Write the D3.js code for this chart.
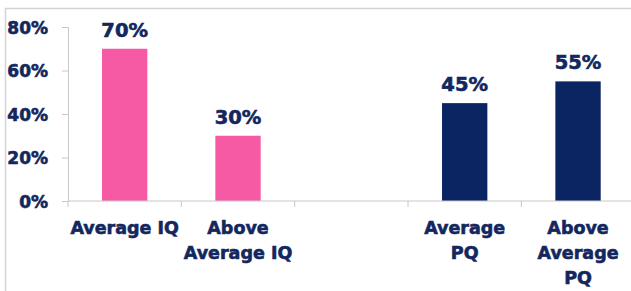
<!DOCTYPE html>
<html>
<head>
<meta charset="utf-8">
<script src="https://cdn.jsdelivr.net/npm/d3@7"></script>
<style>
  body { margin: 0; background: #fff; }
  svg text { font-family: "DejaVu Sans", sans-serif; font-weight: bold; fill: #13275e;
             stroke: #13275e; stroke-width: 0.6px; }
</style>
</head>
<body>
<svg id="chart" width="631" height="291"></svg>
<script>
// chart data
var categories = ["Average IQ", "Above Average IQ", "", "Average PQ", "Above Average PQ"];
var labelLines = [["Average IQ"], ["Above", "Average IQ"], [], ["Average", "PQ"], ["Above", "Average", "PQ"]];
var values = [70, 30, null, 45, 55];
var colors = ["#f75aa5", "#f75aa5", null, "#0b2462", "#0b2462"];
var yTicks = [0, 20, 40, 60, 80];

var data = categories.map(function(c, i) {
  return {i: i, name: c, value: values[i], color: colors[i]};
}).filter(function(d) { return d.value != null; });

var svg = d3.select("#chart");

// frame around plot
svg.append("path")
  .attr("d", "M5.5,291 V8.5 H631")
  .attr("fill", "none")
  .attr("stroke", "#d4d4d4")
  .attr("stroke-width", 1.5);

var x = d3.scaleBand()
  .domain(categories.map(function(d, i) { return i; }))
  .range([68, 634.7])
  .paddingInner(0.6)
  .paddingOuter(0.3);

var y = d3.scaleLinear()
  .domain([0, 80])
  .range([201, 27]);

var g = svg.append("g");

// bars
g.selectAll("rect")
  .data(data)
  .enter().append("rect")
  .attr("x", function(d) { return x(d.i); })
  .attr("y", function(d) { return y(d.value); })
  .attr("width", x.bandwidth())
  .attr("height", function(d) { return y(0) - y(d.value); })
  .attr("fill", function(d) { return d.color; });

// value labels
g.selectAll(".val")
  .data(data)
  .enter().append("text")
  .attr("class", "val")
  .attr("x", function(d) { return x(d.i) + x.bandwidth() / 2; })
  .attr("y", function(d) { return y(d.value) - 12; })
  .attr("text-anchor", "middle")
  .style("font-size", "19.5px")
  .text(function(d) { return d.value + "%"; });

// y axis
var yAxis = svg.append("g")
  .attr("transform", "translate(68,0)")
  .call(d3.axisLeft(y).tickValues(yTicks).tickSize(6).tickPadding(14)
    .tickFormat(function(d) { return d + "%"; }));
yAxis.select(".domain").attr("stroke", "#c8c8c8");
yAxis.selectAll(".tick line").attr("stroke", "#c8c8c8");
yAxis.selectAll(".tick text").style("font-size", "17px").attr("fill", "#13275e").attr("dy", "0.36em");

// x axis: ticks at band boundaries
var step = x.step();
var bounds = categories.map(function(d, i) { return 68 + i * step; });
var xAxis = svg.append("g").attr("transform", "translate(0,201)");
xAxis.append("line")
  .attr("x1", 68).attr("x2", 631)
  .attr("stroke", "#c8c8c8");
xAxis.selectAll(".xt")
  .data(bounds)
  .enter().append("line")
  .attr("x1", function(d) { return d; })
  .attr("x2", function(d) { return d; })
  .attr("y1", 0).attr("y2", 6)
  .attr("stroke", "#c8c8c8");

// category labels
var cat = svg.selectAll(".cat")
  .data(labelLines)
  .enter().append("text")
  .attr("class", "cat")
  .attr("text-anchor", "middle")
  .style("font-size", "17.5px")
  .attr("transform", function(d, i) { return "translate(" + (x(i) + x.bandwidth() / 2) + ",234)"; });
cat.selectAll("tspan")
  .data(function(d) { return d; })
  .enter().append("tspan")
  .attr("x", 0)
  .attr("y", function(d, i) { return i * 25; })
  .text(function(d) { return d; });
</script>
</body>
</html>
